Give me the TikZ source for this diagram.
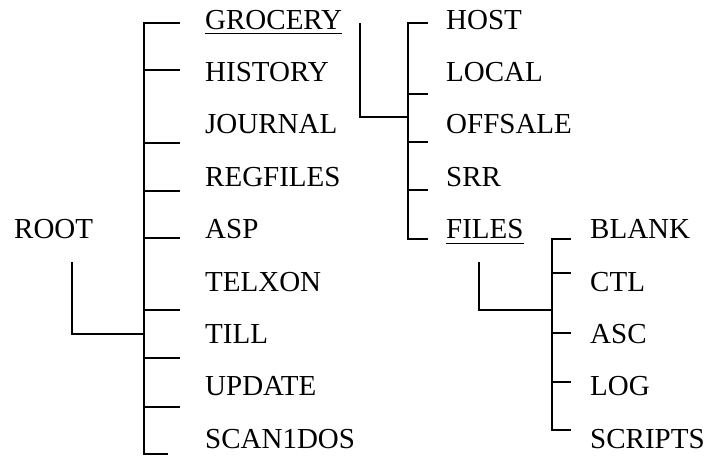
\documentclass[tikz,border=0pt]{standalone}
\usepackage{fontspec}
\setmainfont{Liberation Serif}
\begin{document}
\begin{tikzpicture}[x=1pt,y=-1pt,
  lbl/.style={anchor=base west,inner sep=0pt,font=\fontsize{29}{32}\selectfont},
  heavy/.style={line width=2pt},
  light/.style={line width=1.5pt},
  uline/.style={line width=1.2pt}]
\useasboundingbox (0,0) rectangle (708,456);
% rows
\def\ra{29}\def\rb{81.4}\def\rc{133.8}\def\rd{186.2}\def\re{238.6}
\def\rf{291}\def\rg{343.4}\def\rh{395.8}\def\ri{448.2}
% labels
\node[lbl] (root) at (14,\re) {ROOT};
\node[lbl] (grocery) at (205,\ra) {GROCERY};
\node[lbl] (history) at (205,\rb) {HISTORY};
\node[lbl] (journal) at (205,\rc) {JOURNAL};
\node[lbl] (regfiles) at (205,\rd) {REGFILES};
\node[lbl] (asp) at (205,\re) {ASP};
\node[lbl] (telxon) at (205,\rf) {TELXON};
\node[lbl] (till) at (205,\rg) {TILL};
\node[lbl] (update) at (205,\rh) {UPDATE};
\node[lbl] (scan) at (205,\ri) {SCAN1DOS};
\node[lbl] (host) at (446,\ra) {HOST};
\node[lbl] (local) at (446,\rb) {LOCAL};
\node[lbl] (offsale) at (446,\rc) {OFFSALE};
\node[lbl] (srr) at (446,\rd) {SRR};
\node[lbl] (files) at (446,\re) {FILES};
\node[lbl] (blank) at (590,\re) {BLANK};
\node[lbl] (ctl) at (590,\rf) {CTL};
\node[lbl] (asc) at (590,\rg) {ASC};
\node[lbl] (log) at (590,\rh) {LOG};
\node[lbl] (scripts) at (590,\ri) {SCRIPTS};
% underlines
\draw[uline] ([yshift=-4.5pt]grocery.base west) -- ([yshift=-4.5pt]grocery.base east);
\draw[uline] ([yshift=-4.5pt]files.base west) -- ([yshift=-4.5pt]files.base east);
% coordinates
\coordinate (rootdrop) at (72,262);
\coordinate (rootjoin) at (144,334);
\coordinate (grodrop) at (360,23);
\coordinate (grojoin) at (408,117);
\coordinate (filesdrop) at (479,262);
\coordinate (filesjoin) at (552,310);
% left tree
\draw[heavy] (180,23) -- (144,23) -- (144,454) -- (168,454);
\foreach \y in {70,143,191,238,310,358,407} \draw[heavy] (144,\y) -- (180,\y);
\draw[heavy] (rootdrop) |- (rootjoin);
% grocery subtree
\draw[light] (grodrop) |- (grojoin);
\draw[light] (428,23) -- (408,23) -- (408,239) -- (428,239);
\foreach \y in {94,142,190} \draw[light] (408,\y) -- (428,\y);
% files subtree
\draw[light] (filesdrop) |- (filesjoin);
\draw[light] (571,239) -- (552,239) -- (552,430) -- (571,430);
\foreach \y in {273,333,382} \draw[light] (552,\y) -- (571,\y);
\end{tikzpicture}
\end{document}
